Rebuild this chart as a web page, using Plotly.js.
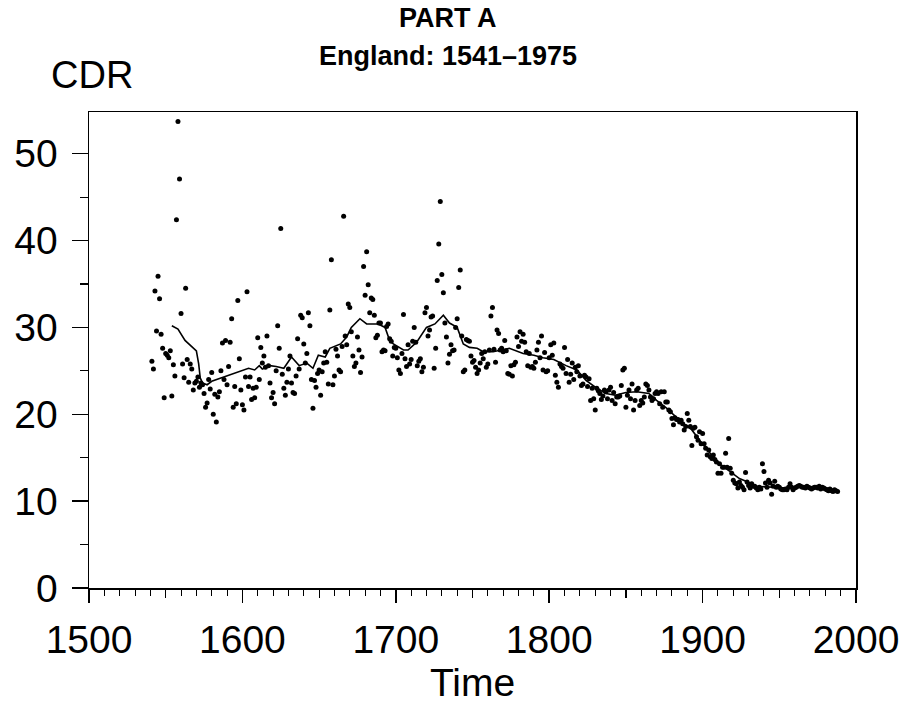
<!DOCTYPE html>
<html>
<head>
<meta charset="utf-8">
<script src="https://cdn.plot.ly/plotly-3.0.1.min.js"></script>
<style>html,body{margin:0;padding:0;background:#fff;}#chart{width:904px;height:706px;}</style>
</head>
<body>
<div id="chart"></div>
<script>
var years = [
1541,1542,1543,1544,1545,1546,1547,1548,1549,1550,
1551,1552,1553,1554,1555,1556,1557,1558,1559,1560,
1561,1562,1563,1564,1565,1566,1567,1568,1569,1570,
1571,1572,1573,1574,1575,1576,1577,1578,1579,1580,
1581,1582,1583,1584,1585,1586,1587,1588,1589,1590,
1591,1592,1593,1594,1595,1596,1597,1598,1599,1600,
1601,1602,1603,1604,1605,1606,1607,1608,1609,1610,
1611,1612,1613,1614,1615,1616,1617,1618,1619,1620,
1621,1622,1623,1624,1625,1626,1627,1628,1629,1630,
1631,1632,1633,1634,1635,1636,1637,1638,1639,1640,
1641,1642,1643,1644,1645,1646,1647,1648,1649,1650,
1651,1652,1653,1654,1655,1656,1657,1658,1659,1660,
1661,1662,1663,1664,1665,1666,1667,1668,1669,1670,
1671,1672,1673,1674,1675,1676,1677,1678,1679,1680,
1681,1682,1683,1684,1685,1686,1687,1688,1689,1690,
1691,1692,1693,1694,1695,1696,1697,1698,1699,1700,
1701,1702,1703,1704,1705,1706,1707,1708,1709,1710,
1711,1712,1713,1714,1715,1716,1717,1718,1719,1720,
1721,1722,1723,1724,1725,1726,1727,1728,1729,1730,
1731,1732,1733,1734,1735,1736,1737,1738,1739,1740,
1741,1742,1743,1744,1745,1746,1747,1748,1749,1750,
1751,1752,1753,1754,1755,1756,1757,1758,1759,1760,
1761,1762,1763,1764,1765,1766,1767,1768,1769,1770,
1771,1772,1773,1774,1775,1776,1777,1778,1779,1780,
1781,1782,1783,1784,1785,1786,1787,1788,1789,1790,
1791,1792,1793,1794,1795,1796,1797,1798,1799,1800,
1801,1802,1803,1804,1805,1806,1807,1808,1809,1810,
1811,1812,1813,1814,1815,1816,1817,1818,1819,1820,
1821,1822,1823,1824,1825,1826,1827,1828,1829,1830,
1831,1832,1833,1834,1835,1836,1837,1838,1839,1840,
1841,1842,1843,1844,1845,1846,1847,1848,1849,1850,
1851,1852,1853,1854,1855,1856,1857,1858,1859,1860,
1861,1862,1863,1864,1865,1866,1867,1868,1869,1870,
1871,1872,1873,1874,1875,1876,1877,1878,1879,1880,
1881,1882,1883,1884,1885,1886,1887,1888,1889,1890,
1891,1892,1893,1894,1895,1896,1897,1898,1899,1900,
1901,1902,1903,1904,1905,1906,1907,1908,1909,1910,
1911,1912,1913,1914,1915,1916,1917,1918,1919,1920,
1921,1922,1923,1924,1925,1926,1927,1928,1929,1930,
1931,1932,1933,1934,1935,1936,1937,1938,1939,1940,
1941,1942,1943,1944,1945,1946,1947,1948,1949,1950,
1951,1952,1953,1954,1955,1956,1957,1958,1959,1960,
1961,1962,1963,1964,1965,1966,1967,1968,1969,1970,
1971,1972,1973,1974,1975,1976,1977,1978,1979,1980,
1981,1982,1983,1984,1985,1986,1987,1988
];
var cdr = [
26.1,25.2,34.2,29.6,35.9,33.3,29.2,27.6,21.9,27.0,
26.8,26.5,27.3,22.1,25.7,24.4,42.4,53.7,47.1,31.6,
25.8,24.2,34.5,26.3,23.7,25.8,25.2,22.8,23.6,23.8,
24.3,23.1,23.6,23.4,22.4,20.8,21.3,24.0,22.9,24.8,
20.0,22.3,19.1,22.0,22.6,25.0,28.2,24.0,28.5,23.4,
25.5,28.3,31.0,20.8,23.2,21.2,33.1,26.4,22.8,21.1,
20.5,24.3,34.1,23.2,24.3,21.7,23.0,21.9,23.1,28.8,
24.0,27.7,25.9,26.7,25.4,29.0,25.6,23.6,21.9,22.5,
21.2,25.0,30.2,27.6,41.4,24.6,23.0,22.2,23.7,25.2,
26.7,23.6,22.5,22.4,24.4,28.7,25.2,31.4,31.1,28.1,
25.9,27.0,31.7,30.2,24.0,20.7,23.9,23.1,24.7,25.1,
22.2,24.9,25.9,27.2,26.0,23.5,32.0,37.8,23.4,24.4,
27.5,26.7,25.1,24.9,27.8,42.8,29.0,28.0,32.7,32.3,
29.5,26.7,25.5,25.9,28.9,27.4,24.8,26.6,37.0,33.7,
38.7,34.9,31.7,33.4,33.2,31.4,28.8,29.1,30.5,30.5,
27.2,27.4,27.3,30.1,30.4,28.7,28.4,26.7,27.7,27.6,
26.5,25.1,24.7,27.0,31.5,26.4,25.5,28.0,25.8,26.3,
28.4,30.0,28.3,25.6,26.1,26.4,24.9,25.4,31.7,32.3,
29.0,29.7,31.2,31.3,25.3,27.6,35.4,39.6,44.5,36.1,
34.0,30.5,28.9,25.9,26.9,28.0,27.3,27.4,30.0,31.0,
34.6,36.6,29.0,24.9,25.1,28.6,28.5,28.4,26.7,26.0,
26.2,25.4,24.7,25.1,25.9,27.0,26.4,27.2,25.4,25.8,
27.4,31.3,32.3,27.5,26.0,29.7,29.3,27.4,27.6,27.2,
28.5,27.3,24.7,24.6,25.6,24.4,25.7,26.0,28.9,27.8,
29.5,28.4,29.2,28.3,27.2,25.6,27.0,25.4,25.5,25.3,
26.0,27.4,28.3,26.5,29.0,25.1,27.1,24.9,25.0,26.5,
28.0,26.8,28.2,24.5,23.7,23.1,25.8,25.5,25.3,27.7,
24.7,26.3,23.7,24.6,25.9,24.0,25.4,24.9,25.6,24.4,
23.3,23.5,24.5,24.3,23.2,24.1,21.6,23.0,21.8,20.5,
23.0,22.7,22.4,21.7,22.1,22.8,22.6,21.8,22.8,23.1,
21.6,22.5,21.2,22.0,22.0,22.1,23.3,25.1,25.3,20.8,
22.2,22.8,21.8,23.5,20.5,21.6,22.8,23.0,21.0,21.6,
21.3,22.0,23.5,23.3,22.8,22.0,21.6,21.8,22.4,22.6,
22.4,21.2,22.6,20.8,22.6,21.4,21.4,20.5,20.3,19.5,
18.8,19.6,19.4,19.4,19.1,19.3,18.9,18.2,18.6,20.1,
19.3,18.6,16.4,18.4,18.5,17.4,17.0,18.0,16.6,17.8,
16.6,16.1,15.3,15.9,15.1,14.9,15.3,14.8,14.5,13.2,
14.3,13.2,13.9,13.9,15.5,13.9,17.2,13.8,13.2,12.4,
12.1,12.0,11.5,12.2,11.8,11.6,11.3,13.3,12.2,11.8,
11.5,12.0,11.7,11.7,11.5,11.3,11.6,11.4,14.3,13.4,
12.1,11.6,12.4,12.1,10.8,11.7,12.3,11.6,11.7,11.6,
11.4,11.3,11.3,11.4,11.3,11.6,12.0,11.6,11.3,11.5,
11.6,11.7,11.8,11.7,11.6,11.6,11.5,11.7,11.6,11.5,
11.4,11.5,11.6,11.6,11.5,11.7,11.4,11.6,11.5,11.4,
11.3,11.2,11.4,11.2,11.1,11.3,11.2,11.1
];
// Smoothed trend line
var trendYears = [1554,1558,1562.6,1568,1570,1571.5,1572.5,1574,1577,1580,1585,1592,1597,1604,1608,1611,1613,1618,1622,1627,1632,1637,1642,1646,1649.5,1654,1657,1664,1668,1671,1676.6,1681,1688.6,1693,1696,1698.4,1705,1708,1713.6,1720,1725.5,1731,1735,1740,1744,1748,1753,1757,1763.5,1770,1774,1783,1790,1796,1803,1811,1818,1824,1831,1837,1843,1850,1857,1865,1870,1876.5,1885,1893,1898,1905,1911,1918,1924,1931,1935,1946,1955,1962,1970,1981,1986];
var trendCdr = [30.2,29.8,28.5,27.7,27.3,25.8,24.2,23.6,23.4,23.8,24.1,24.5,24.8,25.3,25.1,25.6,25.2,25.6,25.5,25.3,26.6,25.6,25.9,25.3,26.8,26.6,27.6,28.1,28.9,30.0,31.0,30.4,30.4,30.0,28.5,28.1,27.4,27.4,28.3,30.0,30.4,31.4,30.5,30.0,28.1,27.7,27.6,27.2,27.2,27.4,27.6,27.0,26.8,26.5,26.3,25.6,25.1,23.9,23.0,22.4,22.2,22.5,22.6,22.4,21.6,20.7,19.3,18.2,17.0,15.5,14.3,13.4,12.6,12.1,11.7,11.6,11.5,11.6,11.6,11.5,11.3];

var titleLines = ['PART A', 'England: 1541\u20131975'];
var xTitle = 'Time';
var yTitle = 'CDR';

var F = 'Liberation Sans, Arial, Helvetica, sans-serif';

var traces = [
  {x: years, y: cdr, type: 'scatter', mode: 'markers', marker: {color: '#000', size: 5}, hoverinfo: 'skip'},
  {x: trendYears, y: trendCdr, type: 'scatter', mode: 'lines', line: {color: '#000', width: 1.6}, hoverinfo: 'skip'},
  {x: [1500], y: [0], xaxis: 'x2', type: 'scatter', mode: 'markers', marker: {opacity: 0}, hoverinfo: 'skip'}
];

var layout = {
  width: 904, height: 706,
  margin: {l: 89, r: 48, t: 112, b: 118},
  paper_bgcolor: '#fff', plot_bgcolor: '#fff',
  showlegend: false,
  font: {family: F, color: '#000'},
  xaxis: {
    range: [1500, 2000], dtick: 100, tick0: 1500,
    showgrid: false, zeroline: false,
    showline: true, linecolor: '#000', linewidth: 1.5, mirror: true,
    ticks: 'outside', ticklen: 13, tickwidth: 1.5, tickcolor: '#000',
    minor: {dtick: 10, tick0: 1500, ticks: 'outside', ticklen: 6, tickwidth: 1, tickcolor: '#000', showgrid: false},
    tickfont: {family: F, size: 39, color: '#000'},
    ticklabelstandoff: 4,
    title: {text: xTitle, font: {family: F, size: 39, color: '#000'}, standoff: 2}
  },
  xaxis2: {
    range: [1500, 2000], dtick: 50, tick0: 1500, overlaying: 'x', anchor: 'y', side: 'bottom',
    showgrid: false, zeroline: false, showline: false, showticklabels: false,
    ticks: 'outside', ticklen: 9, tickwidth: 1.2, tickcolor: '#000'
  },
  yaxis: {
    range: [0, 54.8], dtick: 10, tick0: 0,
    showgrid: false, zeroline: false,
    showline: true, linecolor: '#000', linewidth: 1.5, mirror: true,
    ticks: 'outside', ticklen: 16, tickwidth: 1.5, tickcolor: '#000',
    minor: {dtick: 5, tick0: 0, ticks: 'outside', ticklen: 8, tickwidth: 1.2, tickcolor: '#000', showgrid: false},
    tickfont: {family: F, size: 39, color: '#000'},
    ticklabelstandoff: 6
  },
  annotations: [
    {text: '<b>' + titleLines[0] + '</b>', xref: 'paper', yref: 'paper', x: 0.4687, y: 1.1975, xanchor: 'center', yanchor: 'middle',
     showarrow: false, font: {family: F, size: 27, color: '#000'}},
    {text: '<b>' + titleLines[1] + '</b>', xref: 'paper', yref: 'paper', x: 0.4687, y: 1.1176, xanchor: 'center', yanchor: 'middle',
     showarrow: false, font: {family: F, size: 27, color: '#000'}},
    {text: yTitle, xref: 'paper', yref: 'paper', x: -0.052, y: 1.077, xanchor: 'left', yanchor: 'middle',
     showarrow: false, font: {family: F, size: 38, color: '#000'}}
  ]
};

Plotly.newPlot('chart', traces, layout, {displayModeBar: false, staticPlot: true});
</script>
</body>
</html>
